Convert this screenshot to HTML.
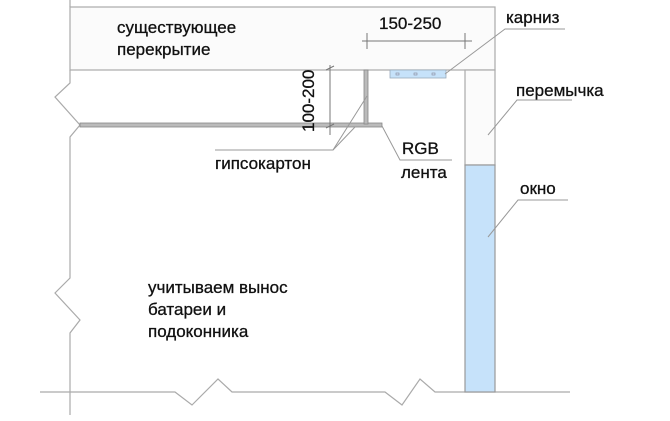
<!DOCTYPE html>
<html><head><meta charset="utf-8"><style>
body{margin:0;background:#fff}
svg{display:block}
text{font-family:"Liberation Sans",sans-serif;fill:#111;font-size:17px;stroke:#111;stroke-width:0.3}
</style></head><body>
<svg width="670" height="421" viewBox="0 0 670 421">
<g stroke="#aaa" stroke-width="1.2" fill="none">
<rect x="70" y="7" width="425" height="63" fill="#fbfbfb"/>
<rect x="465" y="70" width="30" height="95" fill="#fbfbfb"/>
<polyline points="70,0 70,7"/>
<polyline points="70,70 70,83 55,97 80,125 70,137 70,278 55,293 80,320 70,333 70,415"/>
<polyline points="40,392 175,392 192,405 218,379 232,392 385,392 402,405 420,379 435,392 570,392"/>
</g>
<rect x="465" y="165" width="30" height="227" fill="#c6e2fa" stroke="#999" stroke-width="1.2"/>
<rect x="390" y="70" width="56" height="8" fill="#c6e2fa" stroke="#9ab" stroke-width="0.8"/>
<g fill="none" stroke="#889" stroke-width="0.6"><rect x="396" y="73" width="3" height="2"/><rect x="414" y="73" width="3" height="2"/><rect x="432" y="73" width="3" height="2"/></g>
<rect x="80" y="123" width="302" height="4" fill="#bbb" stroke="#888" stroke-width="0.8"/>
<rect x="364" y="70" width="4" height="54" fill="#bbb" stroke="#888" stroke-width="0.8"/>
<g stroke="#777" stroke-width="1" fill="none">
<line x1="330" y1="65" x2="330" y2="135"/><line x1="326" y1="70" x2="334" y2="66"/><line x1="326" y1="128" x2="334" y2="124"/>
<line x1="362" y1="41" x2="472" y2="41"/><line x1="367" y1="33" x2="367" y2="49"/><line x1="465" y1="33" x2="465" y2="49"/>
</g>
<g stroke="#999" stroke-width="1" fill="none">
<polyline points="565,29 505,29 445,74"/>
<polyline points="572,100 517,100 488,135"/>
<polyline points="568,200 518,200 488,237"/>
<polyline points="452,160 400,160 382,126"/>
<polyline points="215,150 333,150 367,96"/>
<line x1="333" y1="150" x2="355" y2="127"/>
</g>
<text x="117" y="33">существующее</text>
<text x="117" y="55">перекрытие</text>
<text x="379" y="29">150-250</text>
<text transform="translate(314,132) rotate(-90)">100-200</text>
<text x="506" y="23">карниз</text>
<text x="516" y="96">перемычка</text>
<text x="520" y="194">окно</text>
<text x="402" y="154">RGB</text>
<text x="401" y="178">лента</text>
<text x="215" y="169">гипсокартон</text>
<text x="148" y="293">учитываем вынос</text>
<text x="148" y="315">батареи и</text>
<text x="148" y="337">подоконника</text>
</svg>
</body></html>
